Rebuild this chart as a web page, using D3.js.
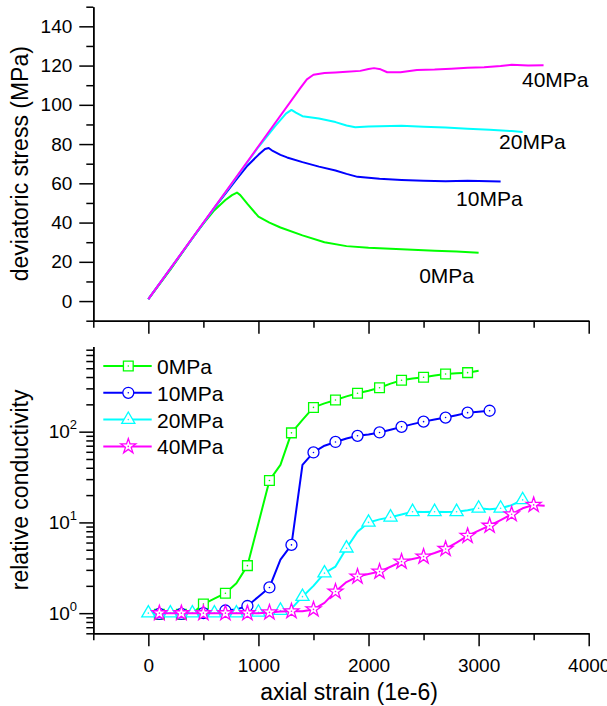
<!DOCTYPE html>
<html>
<head>
<meta charset="utf-8">
<script src="https://cdn.jsdelivr.net/npm/d3@7"></script>
<style>
  body { margin: 0; background: #fff; }
  svg { display: block; font-family: "Liberation Sans", Arial, sans-serif; }
  .axis path, .axis line { stroke: #000; stroke-width: 1.5; }
  .axis text { font-size: 19px; fill: #000; font-family: "Liberation Sans", Arial, sans-serif; }
</style>
</head>
<body>
<div id="chart"></div>
<script>
// series names / colours
var names = ["0MPa", "10MPa", "20MPa", "40MPa"];
var colors = ["#00ff00", "#0000ff", "#00ffff", "#ff00ff"];

// top panel: deviatoric stress (MPa) vs axial strain (1e-6), [strain, stress]
var stress0 = [[0,1],[200,16],[400,32],[500,39.5],[600,46.3],[700,51.5],[760,54],[805,55.3],[835,54],[900,49.5],[1000,43],[1100,40],[1200,37.5],[1400,33.5],[1600,30],[1800,28],[2000,27.2],[2200,26.7],[2400,26.2],[2600,25.7],[2800,25.2],[3000,24.6]];
var stress10 = [[0,1],[400,32],[600,47.5],[800,62],[900,69],[1000,74.5],[1060,77.5],[1093,78],[1130,76.5],[1200,74.5],[1260,73.2],[1400,70.8],[1550,68.5],[1700,66.5],[1800,64.8],[1900,63.3],[2100,62.3],[2300,61.7],[2500,61.3],[2700,61.1],[2900,61.3],[3100,61.0],[3200,60.9]];
var stress20 = [[0,1],[600,47.5],[1000,78.5],[1150,89],[1250,95.5],[1300,97.4],[1340,96],[1400,94.2],[1550,93],[1700,91.2],[1800,89.5],[1880,88.6],[2000,88.9],[2300,89.3],[2500,88.8],[2700,88.4],[2900,87.8],[3100,87.3],[3300,86.6],[3400,86.2]];
var stress40 = [[0,1],[1380,108.5],[1440,113],[1500,115.3],[1600,116.2],[1700,116.5],[1800,116.9],[1925,117.3],[2000,118.3],[2050,118.7],[2110,118.1],[2170,116.6],[2290,116.6],[2440,117.8],[2600,118],[2750,118.4],[2900,118.9],[3050,119.2],[3200,119.8],[3300,120.4],[3450,120.1],[3590,120.2]];

// bottom panel: relative conductivity, one value every 100 strain starting at condStart
var condStart = [0, 0, 0, 100];
var markStart = [100, 100, 0, 100];
var cond0 = [0.97,0.97,0.97,0.97,1.0,1.26,1.45,1.66,2.14,3.34,9.8,29,43,97,135,185,205,223,245,265,283,305,338,368,385,398,415,432,440,447,470];
var cond10 = [1.0,0.98,0.98,0.98,1.0,1.0,1.02,1.07,1.1,1.2,1.52,1.92,3.9,5.65,43,59,70,77,84,90,93,98,105,113,121,129,136,143,152,162,166,170];
var cond20 = [1.0,0.95,1.0,0.95,1.0,0.95,1.0,0.96,1.0,0.97,1.02,1.0,1.07,1.12,1.52,2.0,2.76,3.26,5.2,7.9,10.0,10.8,11.4,12.2,13.1,13.0,13.1,13.0,13.1,13.6,14.3,14.0,14.3,15.5,17.7];
var cond40 = [1.0,1.0,1.0,1.0,1.0,1.0,1.0,1.0,1.0,1.0,1.02,1.04,1.05,1.05,1.1,1.3,1.73,2.2,2.53,2.7,2.87,3.25,3.7,3.95,4.2,4.6,5.1,6.0,7.1,8.1,9.2,10.6,12.3,14.3,15.6,15.3];

// label text for the top panel curves
var stressLabels = ["0MPa", "10MPa", "20MPa", "40MPa"];

var width = 607, height = 706;

var svg = d3.select("#chart").append("svg")
    .attr("width", width)
    .attr("height", height);

// scales
var x = d3.scaleLinear().domain([-500, 4000]).range([93.3, 588.7]);
var yTop = d3.scaleLinear().domain([-10, 150]).range([320.7, 6.7]);
var yBot = d3.scaleLog().domain([0.6, 870]).range([633.3, 346.4]);

var xMajor = [0, 1000, 2000, 3000, 4000];
var xMinor = [-500, 500, 1500, 2500, 3500];

// ---------- top panel ----------
svg.append("g").attr("class", "axis")
    .attr("transform", "translate(0," + yTop(-10) + ")")
    .call(d3.axisBottom(x).tickValues(xMajor).tickSize(13).tickSizeOuter(0).tickFormat(""));
svg.append("g").attr("class", "axis")
    .attr("transform", "translate(0," + yTop(-10) + ")")
    .call(d3.axisBottom(x).tickValues(xMinor).tickSize(7).tickSizeOuter(0).tickFormat(""));

svg.append("g").attr("class", "axis")
    .attr("transform", "translate(" + x(-500) + ",0)")
    .call(d3.axisLeft(yTop).tickValues(d3.range(0, 141, 20)).tickSize(14).tickSizeOuter(0).tickPadding(7));
svg.append("g").attr("class", "axis")
    .attr("transform", "translate(" + x(-500) + ",0)")
    .call(d3.axisLeft(yTop).tickValues(d3.range(-10, 151, 20)).tickSize(7).tickSizeOuter(0).tickFormat(""));

var lineTop = d3.line()
    .x(function(d) { return x(d[0]); })
    .y(function(d) { return yTop(d[1]); });

[stress0, stress10, stress20, stress40].forEach(function(s, i) {
    svg.append("path")
        .datum(s)
        .attr("fill", "none")
        .attr("stroke", colors[i])
        .attr("stroke-width", 2)
        .attr("stroke-linejoin", "round")
        .attr("d", lineTop);
});

// curve labels, in data units (strain, stress) of their baseline start
var labelPos = [[2460, 9.1], [2795, 48.5], [3186, 77.3], [3394, 109.2]];
labelPos.forEach(function(p, i) {
    svg.append("text")
        .attr("x", x(p[0]))
        .attr("y", yTop(p[1]))
        .style("font-size", "21px")
        .text(stressLabels[i]);
});

svg.append("text")
    .attr("transform", "translate(28," + ((yTop(150) + yTop(-10)) / 2) + ") rotate(-90)")
    .attr("text-anchor", "middle")
    .style("font-size", "23px")
    .text("deviatoric stress (MPa)");

// ---------- bottom panel ----------
svg.append("g").attr("class", "axis")
    .attr("transform", "translate(0," + yBot(0.6) + ")")
    .call(d3.axisBottom(x).tickValues(xMajor).tickSize(13).tickSizeOuter(0).tickPadding(12).tickFormat(d3.format("d")));
svg.append("g").attr("class", "axis")
    .attr("transform", "translate(0," + yBot(0.6) + ")")
    .call(d3.axisBottom(x).tickValues(xMinor).tickSize(7).tickSizeOuter(0).tickFormat(""));

var logMajor = [1, 10, 100];
var logMinor = [];
[0.1, 1, 10, 100].forEach(function(dec) {
    for (var k = 2; k <= 9; k++) {
        var v = k * dec;
        if (v >= 0.6 && v <= 870) logMinor.push(v);
    }
});

svg.append("g").attr("class", "axis")
    .attr("transform", "translate(" + x(-500) + ",0)")
    .call(d3.axisLeft(yBot).tickValues(logMajor).tickSize(14).tickSizeOuter(0).tickFormat(""));
svg.append("g").attr("class", "axis")
    .attr("transform", "translate(" + x(-500) + ",0)")
    .call(d3.axisLeft(yBot).tickValues(logMinor).tickSize(7).tickSizeOuter(0).tickFormat(""));

logMajor.forEach(function(v) {
    var t = svg.append("text")
        .attr("x", 77)
        .attr("y", yBot(v) + 6.7)
        .attr("text-anchor", "end")
        .style("font-size", "19px");
    t.append("tspan").text("10");
    t.append("tspan").attr("dy", -9).style("font-size", "13px").text(Math.round(Math.log10(v)));
});

var lineBot = d3.line()
    .x(function(d) { return x(d[0]); })
    .y(function(d) { return yBot(d[1]); });

var symbols = [d3.symbolSquare, d3.symbolCircle, d3.symbolTriangle, d3.symbolStar];
var symSizes = [95, 95, 75, 70];

function markerAt(g, i, px, py) {
    g.append("path")
        .attr("transform", "translate(" + px + "," + py + ")")
        .attr("d", d3.symbol().type(symbols[i]).size(symSizes[i])())
        .attr("fill", "#fff")
        .attr("stroke", colors[i])
        .attr("stroke-width", 1.3);
    g.append("circle")
        .attr("cx", px).attr("cy", py).attr("r", 0.8)
        .attr("fill", colors[i]);
}

[cond0, cond10, cond20, cond40].forEach(function(c, i) {
    var pts = c.map(function(v, j) { return [condStart[i] + j * 100, v]; });
    var g = svg.append("g");
    g.append("path")
        .datum(pts)
        .attr("fill", "none")
        .attr("stroke", colors[i])
        .attr("stroke-width", 2)
        .attr("stroke-linejoin", "round")
        .attr("d", lineBot);
    pts.filter(function(d) { return (d[0] - markStart[i]) % 200 === 0 && d[0] >= markStart[i]; })
        .forEach(function(d) { markerAt(g, i, x(d[0]), yBot(d[1])); });
});

// legend
names.forEach(function(n, i) {
    var ly = 366 + i * 26.8;
    var g = svg.append("g");
    g.append("line")
        .attr("x1", 103.3).attr("x2", 151.7)
        .attr("y1", ly).attr("y2", ly)
        .attr("stroke", colors[i]).attr("stroke-width", 2);
    markerAt(g, i, 128.3, ly);
    g.append("text")
        .attr("x", 157)
        .attr("y", ly + 8)
        .style("font-size", "21px")
        .text(n);
});

svg.append("text")
    .attr("transform", "translate(28," + ((yBot(0.6) + yBot(870)) / 2) + ") rotate(-90)")
    .attr("text-anchor", "middle")
    .style("font-size", "23px")
    .text("relative conductivity");

svg.append("text")
    .attr("x", (x(-500) + x(4000)) / 2 + 8)
    .attr("y", 700)
    .attr("text-anchor", "middle")
    .style("font-size", "23px")
    .text("axial strain (1e-6)");
</script>
</body>
</html>
